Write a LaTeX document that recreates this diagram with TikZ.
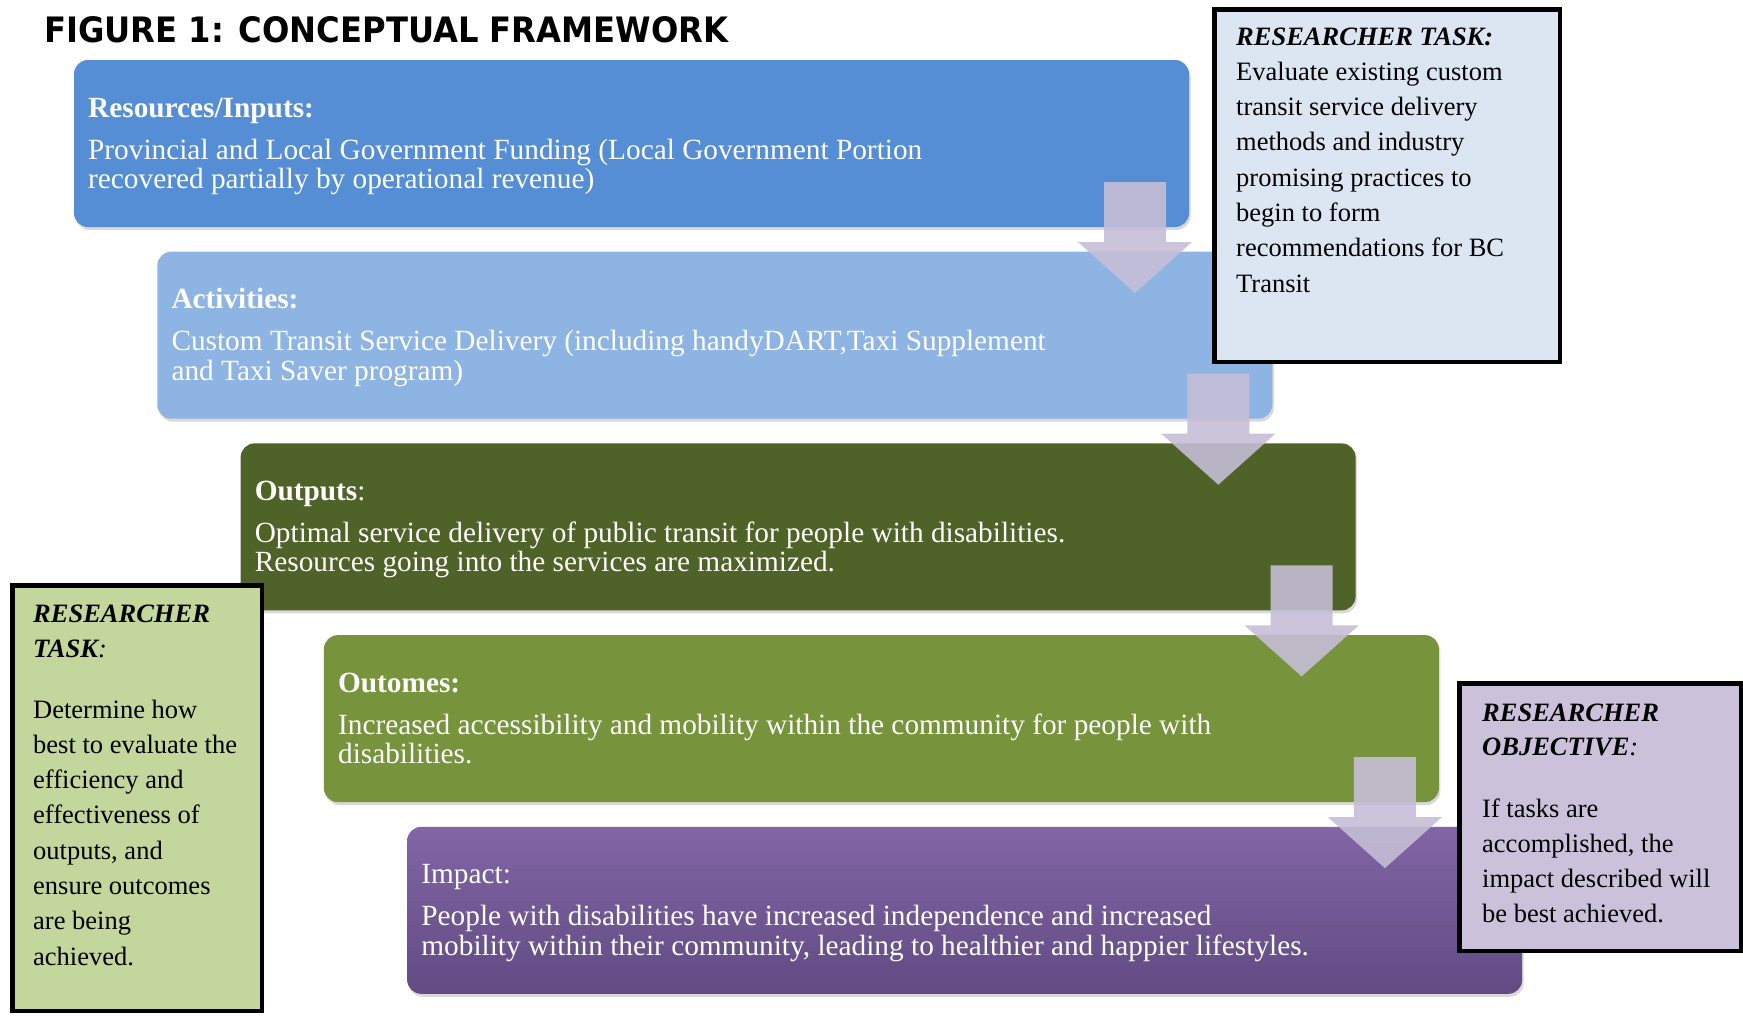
\documentclass[tikz,border=0pt]{standalone}
\usepackage{fontspec}
\setmainfont{Liberation Serif}
\newfontfamily\titlefont[FakeStretch=0.92]{DejaVu Sans}
\usetikzlibrary{calc,shadows}
\definecolor{cA}{RGB}{85,142,213}
\definecolor{cB}{RGB}{142,180,227}
\definecolor{cC}{RGB}{79,98,40}
\definecolor{cD}{RGB}{119,147,60}
\definecolor{cEtop}{RGB}{130,101,166}
\definecolor{cEbot}{RGB}{97,75,130}
\definecolor{arrowcol}{RGB}{197,190,214}
\definecolor{sideblue}{RGB}{220,230,242}
\definecolor{sidegreen}{RGB}{195,214,155}
\definecolor{sidepurple}{RGB}{204,193,218}
\tikzset{
  flowbox/.style={anchor=north west, inner sep=0pt, outer sep=0pt,
    minimum width=1115pt, minimum height=167pt, rounded corners=14pt,
    drop shadow={shadow xshift=1.5pt, shadow yshift=-3pt, opacity=0.3}},
  ftitle/.style={anchor=base west, inner sep=0pt, text=white,
    font=\fontsize{29.3}{28}\selectfont\bfseries},
  fbody/.style={anchor=base west, inner sep=0pt, text=white,
    font=\fontsize{29.3}{28}\selectfont},
  blockarrow/.style={fill=arrowcol, fill opacity=0.9, draw=none},
  sidebox/.style={anchor=north west, draw=black, line width=4.5pt,
    inner sep=0pt, outer sep=0pt},
  stitle/.style={anchor=base west, inner sep=0pt,
    font=\fontsize{26.5}{35}\selectfont\bfseries\itshape},
  stext/.style={anchor=base west, inner sep=0pt,
    font=\fontsize{26.5}{35}\selectfont},
}
\begin{document}
\begin{tikzpicture}[x=1pt,y=-1pt]
\useasboundingbox (0,0) rectangle (1743,1015);

\node[anchor=base west, inner sep=0pt,
  font={\titlefont\bfseries\fontsize{35}{40}\selectfont}] (title) at (44,42)
  {FIGURE 1: CONCEPTUAL FRAMEWORK};

% flow boxes
\node[flowbox, fill=cA] (b1) at (74,60) {};
\node[flowbox, fill=cB] (b2) at (157.3,251.7) {};
\node[flowbox, fill=cC] (b3) at (240.6,443.4) {};
\node[flowbox, fill=cD] (b4) at (323.9,635.1) {};
\node[flowbox, top color=cEtop, bottom color=cEbot] (b5) at (407.2,826.8) {};

% texts in flow boxes
\node[ftitle] (t1) at ($(b1.north west)+(14,57)$) {Resources/Inputs:};
\node[fbody] (t1a) at ($(b1.north west)+(14,99)$) {Provincial and Local Government Funding (Local Government Portion};
\node[fbody] (t1b) at ($(b1.north west)+(14,128.5)$) {recovered partially by operational revenue)};

\node[ftitle] (t2) at ($(b2.north west)+(14,57)$) {Activities:};
\node[fbody] (t2a) at ($(b2.north west)+(14,99)$) {Custom Transit Service Delivery (including handyDART,Taxi Supplement};
\node[fbody] (t2b) at ($(b2.north west)+(14,128.5)$) {and Taxi Saver program)};

\node[fbody] (t3) at ($(b3.north west)+(14,57)$) {\textbf{Outputs}:};
\node[fbody] (t3a) at ($(b3.north west)+(14,99)$) {Optimal service delivery of public transit for people with disabilities.};
\node[fbody] (t3b) at ($(b3.north west)+(14,128.5)$) {Resources going into the services are maximized.};

\node[ftitle] (t4) at ($(b4.north west)+(14,57)$) {Outomes:};
\node[fbody] (t4a) at ($(b4.north west)+(14,99)$) {Increased accessibility and mobility within the community for people with};
\node[fbody] (t4b) at ($(b4.north west)+(14,128.5)$) {disabilities.};

\node[fbody] (t5) at ($(b5.north west)+(14,57)$) {Impact:};
\node[fbody] (t5a) at ($(b5.north west)+(14,99)$) {People with disabilities have increased independence and increased};
\node[fbody] (t5b) at ($(b5.north west)+(14,128.5)$) {mobility within their community, leading to healthier and happier lifestyles.};

% block arrows between boxes
\foreach \bx in {b1,b2,b3,b4}{
  \fill[blockarrow] ($(\bx.south east)+(-85,-45)$) -- ++(62,0) -- ++(0,60) -- ++(26,0)
    -- ($(\bx.south east)+(-54,66)$) -- ($(\bx.south east)+(-111,15)$) -- ++(26,0) -- cycle;
}

% side boxes
\node[sidebox, fill=sideblue, minimum width=345.5pt, minimum height=352.5pt] (rt) at (1214.25,9.25) {};
\node[stitle] (rth) at (1236,45) {RESEARCHER TASK:};
\foreach \t [count=\i] in {Evaluate existing custom, transit service delivery, methods and industry,
  promising practices to, begin to form, recommendations for BC, Transit}{
  \node[stext] (rtl\i) at (1236,{45+35.3*\i}) {\t};
}

\node[sidebox, fill=sidegreen, minimum width=249.5pt, minimum height=425.5pt] (lt) at (12.25,585.25) {};
\node[stitle] (lth1) at (33,622.5) {RESEARCHER};
\node[stitle] (lth2) at (33,657.8) {TASK\textmd{:}};
\foreach \t [count=\i] in {Determine how, best to evaluate the, efficiency and, effectiveness of,
  {outputs, and}, ensure outcomes, are being, achieved.}{
  \node[stext] (ltl\i) at (33,{718+35.3*(\i-1)}) {\t};
}

\node[sidebox, fill=sidepurple, minimum width=281.5pt, minimum height=267.5pt] (ro) at (1459.25,683.25) {};
\node[stitle] (roh1) at (1482,721) {RESEARCHER};
\node[stitle] (roh2) at (1482,755.5) {OBJECTIVE\textmd{:}};
\foreach \t [count=\i] in {If tasks are, {accomplished, the}, impact described will, be best achieved.}{
  \node[stext] (rol\i) at (1482,{817+35.2*(\i-1)}) {\t};
}
\end{tikzpicture}
\end{document}
